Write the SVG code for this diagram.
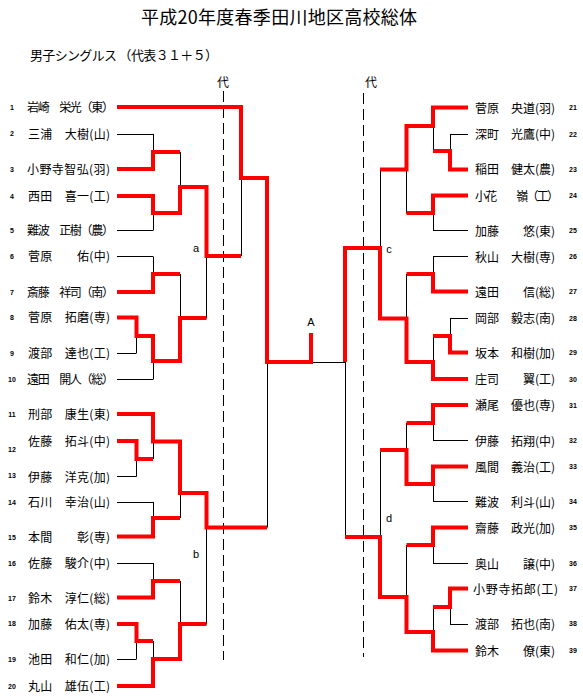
<svg xmlns="http://www.w3.org/2000/svg" width="583" height="699" viewBox="0 0 583 699">
<style>
.t{font-family:"Noto Sans CJK JP","Noto Sans CJK SC",sans-serif;fill:#000}
.n{font-family:"Noto Sans CJK JP","Noto Sans CJK SC",sans-serif;font-size:12px;fill:#000}
.num{font-family:"Liberation Sans",sans-serif;font-size:7px;font-weight:bold;text-anchor:middle;fill:#000}
.lb{font-family:"Liberation Sans",sans-serif;font-size:11px;fill:#000;text-anchor:middle}
.blk{stroke:#000;stroke-width:1;fill:none}
.red{stroke:#f00;stroke-width:4;fill:none;stroke-linejoin:miter;stroke-linecap:butt}
.dash{stroke:#000;stroke-width:1;stroke-dasharray:11 5;fill:none}
</style>
<rect width="583" height="699" fill="#fff"/>
<g id="title">
<text class="t" x="141" y="24" font-size="18" textLength="276">平成20年度春季田川地区高校総体</text>
<text class="t" x="30" y="60" font-size="13" textLength="188">男子シングルス （代表３１＋５）</text>
<text class="t" x="223" y="87" font-size="12" text-anchor="middle">代</text>
<text class="t" x="371" y="87" font-size="12" text-anchor="middle">代</text>
</g>
<g id="labels">
<text class="lb" x="196" y="252">a</text>
<text class="lb" x="196" y="558">b</text>
<text class="lb" x="389" y="253">c</text>
<text class="lb" x="389" y="522">d</text>
<text class="lb" x="311" y="326">A</text>
</g>
<g id="connectors">
<path class="dash" d="M223.5 91V660M363.5 93V657"/>
<path class="blk" d="M117 107.5H241M117 134.5H153M117 169.5H153M117 196.5H153M117 230.5H153M117 256.5H153M117 292.5H153M117 317.5H136.5M117 353.5H136.5M117 379.5H153M117 414.5H153M117 441.5H136.5M117 476.5H136.5M117 502.5H153M117 536.5H153M117 563.5H153M117 597.5H153M117 624.5H136.5M117 659.5H136.5M117 686.5H153
M153.5 134V169M153 152.5H180M153.5 196V230.5M153 213.5H180M180.5 152V213M180 187.5H206.5
M153.5 256.5V292M153 274.5H180M136.5 317.5V353M136.5 336.5H153M153.5 336V379.5M153 361.5H180M180.5 274V361M180 318.5H206.5
M206.5 187V318M206.5 256.5H241M241.5 107V256M241 178.5H267
M136.5 441V476.5M136.5 459.5H153M153.5 414V459M153 441.5H180M153.5 502V536.5M153 518.5H180M180.5 441.5V518M180 493.5H206.5
M153.5 563V597.5M153 581.5H180M136.5 624V659M136.5 641.5H153M153.5 641V686M153 659.5H180M180.5 581V659M180 624.5H206.5
M206.5 493V624M206.5 527.5H267M267.5 178V527.5M267 362.5H345M345.5 248V537
M433 107.5H468M450 134.5H468M450 169.5H468M433 195.5H468M433 230.5H468M433 256.5H468M433 291.5H468M450 318.5H468M450 352.5H468M433 379.5H468M433 405.5H468M433 440.5H468M433 466.5H468M433 501.5H468M433 527.5H468M433 563.5H468M450 588.5H468M450 624.5H468M433 650.5H468
M450.5 134.5V169.5M433 151.5H450M433.5 107.5V151M406.5 126.5H433M433.5 195.5V230.5M406.5 213.5H433M406.5 126V213M380 169.5H406.5
M433.5 256.5V291.5M406.5 274.5H433M450.5 318.5V352.5M433 336.5H450M433.5 336V379M406.5 362.5H433M406.5 274V362M380 318.5H406.5M380.5 169.5V318.5M345 248.5H380
M433.5 405V440.5M406.5 423.5H433M433.5 466.5V501.5M406.5 484.5H433M406.5 423V484M380 450.5H406.5
M433.5 527.5V563.5M406.5 545.5H433M450.5 588.5V624M433 607.5H450M433.5 607V650.5M406.5 632.5H433M406.5 545V632M380 597.5H406.5M380.5 450V597M345 537.5H380"/>
<path class="red" d="M117 107H241V178H267V362H311V333"/>
<path class="red" d="M117 169H153V152H180"/>
<path class="red" d="M117 196H153V213H180V187H206.5V256H241"/>
<path class="red" d="M117 292H153V274H180"/>
<path class="red" d="M117 317.5H136.5V336H153V361H180V318H206.5"/>
<path class="red" d="M117 414H153V441.5H180V493H206.5V527.5H267"/>
<path class="red" d="M117 441H136.5V459H153"/>
<path class="red" d="M117 536.5H153V518H180"/>
<path class="red" d="M117 597.5H153V581H180"/>
<path class="red" d="M117 624H136.5V641H153"/>
<path class="red" d="M117 686H153V659H180V624H206.5"/>
<path class="red" d="M468 107.5H433V126H406.5V169.5H380"/>
<path class="red" d="M468 169.5H450V151H433"/>
<path class="red" d="M468 195.5H433V213H406.5"/>
<path class="red" d="M468 291.5H433V274H406.5"/>
<path class="red" d="M468 352.5H450V336H433"/>
<path class="red" d="M468 379H433V362H406.5V318.5H380V248H345V362"/>
<path class="red" d="M468 405H433V423H406.5"/>
<path class="red" d="M468 466.5H433V484H406.5V450H380"/>
<path class="red" d="M468 527.5H433V545H406.5"/>
<path class="red" d="M468 588.5H450V607H433"/>
<path class="red" d="M468 650.5H433V632H406.5V597H380V537H345"/>
</g>
<g id="p1"><text class="num" x="12" y="110">1</text><text class="n" x="27" y="112" textLength="87">岩崎　栄光（東）</text></g>
<g id="p2"><text class="num" x="12" y="136">2</text><text class="n" x="28" y="139" textLength="82">三浦　大樹(山)</text></g>
<g id="p3"><text class="num" x="12" y="172">3</text><text class="n" x="27" y="174" textLength="83">小野寺智弘(羽)</text></g>
<g id="p4"><text class="num" x="12" y="199">4</text><text class="n" x="28" y="201" textLength="82">西田　喜一(工)</text></g>
<g id="p5"><text class="num" x="12" y="233">5</text><text class="n" x="27" y="235" textLength="87">難波　正樹（農）</text></g>
<g id="p6"><text class="num" x="12" y="259">6</text><text class="n" x="28" y="261" textLength="82">菅原　　佑(中)</text></g>
<g id="p7"><text class="num" x="12" y="295">7</text><text class="n" x="27" y="297" textLength="87">斎藤　祥司（南）</text></g>
<g id="p8"><text class="num" x="12" y="320">8</text><text class="n" x="28" y="322" textLength="82">菅原　拓磨(専)</text></g>
<g id="p9"><text class="num" x="12" y="356">9</text><text class="n" x="28" y="358" textLength="82">渡部　達也(工)</text></g>
<g id="p10"><text class="num" x="12" y="382">10</text><text class="n" x="27" y="384" textLength="87">遠田　開人（総）</text></g>
<g id="p11"><text class="num" x="12" y="417">11</text><text class="n" x="28" y="419" textLength="82">刑部　康生(東)</text></g>
<g id="p12"><text class="num" x="12" y="452">12</text><text class="n" x="28" y="446" textLength="82">佐藤　拓斗(中)</text></g>
<g id="p13"><text class="num" x="12" y="478">13</text><text class="n" x="28" y="482" textLength="82">伊藤　洋克(加)</text></g>
<g id="p14"><text class="num" x="12" y="505">14</text><text class="n" x="28" y="507" textLength="82">石川　幸治(山)</text></g>
<g id="p15"><text class="num" x="12" y="540">15</text><text class="n" x="28" y="542" textLength="82">本間　　彰(専)</text></g>
<g id="p16"><text class="num" x="12" y="566">16</text><text class="n" x="28" y="568" textLength="82">佐藤　駿介(中)</text></g>
<g id="p17"><text class="num" x="12" y="601">17</text><text class="n" x="28" y="603" textLength="82">鈴木　淳仁(総)</text></g>
<g id="p18"><text class="num" x="12" y="626">18</text><text class="n" x="28" y="629" textLength="82">加藤　佑太(専)</text></g>
<g id="p19"><text class="num" x="12" y="662">19</text><text class="n" x="28" y="664" textLength="82">池田　和仁(加)</text></g>
<g id="p20"><text class="num" x="12" y="689">20</text><text class="n" x="28" y="691" textLength="82">丸山　雄伍(工)</text></g>
<g id="p21"><text class="num" x="573" y="110">21</text><text class="n" x="475" y="113" textLength="80">菅原　央道(羽)</text></g>
<g id="p22"><text class="num" x="573" y="137">22</text><text class="n" x="475" y="139" textLength="80">深町　光鷹(中)</text></g>
<g id="p23"><text class="num" x="573" y="172">23</text><text class="n" x="475" y="174" textLength="80">稲田　健太(農)</text></g>
<g id="p24"><text class="num" x="573" y="198">24</text><text class="n" x="475" y="201" textLength="84">小花　　嶺（工）</text></g>
<g id="p25"><text class="num" x="573" y="233">25</text><text class="n" x="475" y="236" textLength="80">加藤　　悠(東)</text></g>
<g id="p26"><text class="num" x="573" y="259">26</text><text class="n" x="475" y="262" textLength="80">秋山　大樹(専)</text></g>
<g id="p27"><text class="num" x="573" y="294">27</text><text class="n" x="475" y="297" textLength="80">遠田　　信(総)</text></g>
<g id="p28"><text class="num" x="573" y="321">28</text><text class="n" x="475" y="323" textLength="80">岡部　毅志(南)</text></g>
<g id="p29"><text class="num" x="573" y="355">29</text><text class="n" x="475" y="358" textLength="80">坂本　和樹(加)</text></g>
<g id="p30"><text class="num" x="573" y="382">30</text><text class="n" x="475" y="384" textLength="80">庄司　　翼(工)</text></g>
<g id="p31"><text class="num" x="573" y="408">31</text><text class="n" x="475" y="410" textLength="80">瀬尾　優也(専)</text></g>
<g id="p32"><text class="num" x="573" y="443">32</text><text class="n" x="475" y="446" textLength="80">伊藤　拓翔(中)</text></g>
<g id="p33"><text class="num" x="573" y="469">33</text><text class="n" x="475" y="472" textLength="80">風間　義治(工)</text></g>
<g id="p34"><text class="num" x="573" y="504">34</text><text class="n" x="475" y="507" textLength="80">難波　利斗(山)</text></g>
<g id="p35"><text class="num" x="573" y="530">35</text><text class="n" x="475" y="533" textLength="80">齋藤　政光(加)</text></g>
<g id="p36"><text class="num" x="573" y="566">36</text><text class="n" x="475" y="569" textLength="80">奥山　　譲(中)</text></g>
<g id="p37"><text class="num" x="573" y="591">37</text><text class="n" x="473" y="594" textLength="85">小野寺拓郎(工)</text></g>
<g id="p38"><text class="num" x="573" y="626">38</text><text class="n" x="475" y="629" textLength="80">渡部　拓也(南)</text></g>
<g id="p39"><text class="num" x="573" y="653">39</text><text class="n" x="475" y="656" textLength="80">鈴木　　僚(東)</text></g>
</svg>
